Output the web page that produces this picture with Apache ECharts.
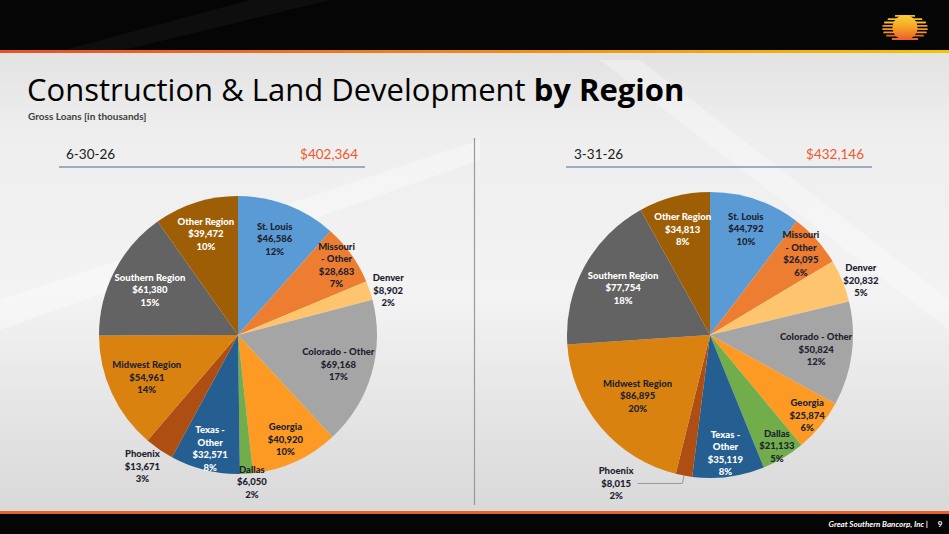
<!DOCTYPE html>
<html>
<head>
<meta charset="utf-8">
<script src="https://cdn.jsdelivr.net/npm/echarts@6/dist/echarts.min.js"></script>
<style>
  html, body { margin: 0; padding: 0; background: #e6e6e6; }
  #chart { width: 949px; height: 534px; }
</style>
</head>
<body>
<div id="chart"></div>
<script>
// ---------------- DATA ----------------
const categories = ['St. Louis', 'Missouri - Other', 'Denver', 'Colorado - Other', 'Georgia', 'Dallas',
  'Texas - Other', 'Phoenix', 'Midwest Region', 'Southern Region', 'Other Region'];
const values_6_30_26 = [46586, 28683, 8902, 69168, 40920, 6050, 32571, 13671, 54961, 61380, 39472];
const values_3_31_26 = [44792, 26095, 20832, 50824, 25874, 21133, 35119, 8015, 86895, 77754, 34813];
const periodLabels = ['6-30-26', '3-31-26'];
const titleMain = 'Construction & Land Development';
const titleBold = 'by Region';
const subtitle = 'Gross Loans [in thousands]';
const footerText = 'Great Southern Bancorp, Inc |';
const pageNumber = '9';

// ---------------- STYLE ----------------
const sliceColors = ['#5B9BD5', '#ED7D31', '#FFC46E', '#A5A5A5', '#FD9A23', '#72AD4B',
  '#255E91', '#AE4E12', '#D9820F', '#636363', '#9E5E06'];
const whiteLabel = ['Texas - Other', 'Southern Region', 'Other Region'];
const wrapNames = { 'Missouri - Other': 'Missouri\n- Other', 'Texas - Other': 'Texas -\nOther' };
const darkText = '#1E2230';
const orange = '#F0592A';
const FONT = 'Lato, "Open Sans", sans-serif';
const TITLE_FONT = '"Open Sans", Lato, sans-serif';

// label placement (fraction of radius where inside labels sit), and outside labels
const placeLeft = {
  center: [238, 335], r: 139,
  ratio: { 'St. Louis': 0.72, 'Missouri - Other': 0.85, 'Colorado - Other': 0.73, 'Georgia': 0.80,
    'Texas - Other': 0.82, 'Midwest Region': 0.70, 'Southern Region': 0.69, 'Other Region': 0.74 },
  outside: {
    'Denver': { len: 1, len2: 0, dist: 2, line: false },
    'Dallas': { len: 8, len2: 0, dist: -10, line: false },
    'Phoenix': { len: 20, len2: 0, dist: -12, line: false }
  }
};
const placeRight = {
  center: [710, 335], r: 143,
  ratio: { 'St. Louis': 0.76, 'Missouri - Other': 0.83, 'Colorado - Other': 0.73, 'Georgia': 0.86,
    'Texas - Other': 0.81, 'Midwest Region': 0.64, 'Southern Region': 0.67, 'Other Region': 0.74 },
  outside: {
    'Denver': { len: 1, len2: 0, dist: 0, line: false },
    'Dallas': { len: -14, len2: 0, dist: -17, line: false },
    'Phoenix': { len: 8, len2: 45, dist: 4, line: true }
  }
};

function fmtMoney(v) { return '$' + v.toLocaleString('en-US'); }
function labelFormatter(p) {
  const lines = (wrapNames[p.name] || p.name).split('\n')
    .concat([fmtMoney(p.value), Math.round(p.percent) + '%']);
  return lines.map(l => '{c|' + l + '}').join('\n');
}
const labelText = {
  formatter: labelFormatter, fontFamily: FONT, fontWeight: 900, fontSize: 9.5, lineHeight: 12.5,
  rich: { c: { align: 'center', fontFamily: FONT, fontWeight: 900, fontSize: 9.5, lineHeight: 12.5 } }
};

function makePies(values, place) {
  const common = {
    type: 'pie', center: place.center, silent: true, animation: false,
    startAngle: 90, clockwise: true, avoidLabelOverlap: false, emphasis: { disabled: true },
    labelLine: { show: false }, labelLayout: { hideOverlap: false }
  };
  const base = Object.assign({}, common, {
    radius: [0, place.r],
    label: { show: false },
    itemStyle: { borderWidth: 0 },
    data: categories.map((c, i) => ({ name: c, value: values[i], itemStyle: { color: sliceColors[i] } }))
  });
  const series = [base];
  // outside labels
  series.push(Object.assign({}, common, {
    radius: [0, place.r],
    itemStyle: { color: 'rgba(0,0,0,0)', borderWidth: 0 },
    label: Object.assign({ color: darkText }, labelText),
    data: categories.map((c, i) => {
      const d = { name: c, value: values[i] };
      const o = place.outside[c];
      if (o) {
        d.label = { show: true, position: 'outside', distanceToLabelLine: o.dist };
        d.labelLine = { show: o.line, length: o.len, length2: o.len2, lineStyle: { color: '#9a9a9a', width: 1 } };
      } else {
        d.label = { show: false };
      }
      return d;
    })
  }));
  // inside label rings (transparent), one per distinct ratio; labels sit at mid-ring
  const ratios = Array.from(new Set(Object.values(place.ratio)));
  const half = 0.3 * place.r;
  ratios.forEach(rt => {
    const mid = rt * place.r;
    series.push(Object.assign({}, common, {
      radius: [Math.round(mid - half), Math.round(mid + half)],
      itemStyle: { color: 'rgba(0,0,0,0)', borderWidth: 0 },
      label: Object.assign({ align: 'center' }, labelText),
      data: categories.map((c, i) => {
        const d = { name: c, value: values[i] };
        if (place.ratio[c] === rt) {
          d.label = { show: true, position: 'inside', color: whiteLabel.includes(c) ? '#ffffff' : darkText };
        } else {
          d.label = { show: false };
        }
        return d;
      })
    }));
  });
  return series;
}

const totalLeft = values_6_30_26.reduce((a, b) => a + b, 0);
const totalRight = values_3_31_26.reduce((a, b) => a + b, 0);

// logo stripes (decoration)
const logoStripes = [];
for (let k = 0; k < 8; k++) {
  const y = 15 + k * 3.3;
  const t = (y + 0.9 - 28) / 13.5;
  const hw = 23 * Math.sqrt(Math.max(0, 1 - t * t));
  logoStripes.push({ type: 'rect', shape: { x: 905 - hw, y: y, width: hw * 2, height: 1.8, r: 0.9 },
    style: { fill: k < 3 ? '#F6C21B' : (k < 6 ? '#F39A1E' : '#E8672A') }, silent: true });
}

const option = {
  backgroundColor: {
    type: 'linear', x: 0, y: 0, x2: 0, y2: 1,
    colorStops: [
      { offset: 0, color: '#dcdcdc' }, { offset: 0.25, color: '#eeeeee' },
      { offset: 0.55, color: '#f3f3f3' }, { offset: 1, color: '#d6d6d6' }
    ]
  },
  graphic: [
    // faint streaks
    { type: 'polygon', shape: { points: [[0, 300], [0, 330], [480, 160], [480, 140]] }, style: { fill: 'rgba(255,255,255,0.35)' }, silent: true },
    { type: 'polygon', shape: { points: [[600, 60], [640, 60], [949, 300], [949, 330]] }, style: { fill: 'rgba(255,255,255,0.3)' }, silent: true },
    // top band
    { type: 'rect', shape: { x: 0, y: 0, width: 949, height: 51 }, style: { fill: '#050505' }, silent: true },
    { type: 'polygon', shape: { points: [[250, 0], [330, 0], [120, 51], [60, 51]] }, style: { fill: 'rgba(255,255,255,0.04)' }, silent: true },
    { type: 'rect', shape: { x: 0, y: 50, width: 949, height: 3 },
      style: { fill: { type: 'linear', x: 0, y: 0, x2: 1, y2: 0, colorStops: [{ offset: 0, color: '#E8502A' }, { offset: 1, color: '#F2C500' }] } }, silent: true },
    // logo
    { type: 'group', children: logoStripes.concat([
      { type: 'circle', shape: { cx: 905, cy: 27.5, r: 12.5 },
        style: { fill: { type: 'linear', x: 0, y: 0, x2: 0, y2: 1, colorStops: [{ offset: 0, color: '#F8D13A' }, { offset: 0.5, color: '#F7A126' }, { offset: 1, color: '#EA5E2A' }] } }, silent: true }
    ]) },
    // title
    { type: 'text', left: 27, top: 73, silent: true,
      style: { text: '{a|' + titleMain + '}{b| ' + titleBold + '}', fontFamily: TITLE_FONT,
        rich: { a: { fontSize: 31, color: orange, fontFamily: TITLE_FONT }, b: { fontSize: 31, color: '#000', fontWeight: 'bold', fontFamily: TITLE_FONT } } } },
    { type: 'text', left: 28, top: 111, silent: true,
      style: { text: subtitle, fontFamily: FONT, fontSize: 10, fontWeight: 'bold', fill: '#404040' } },
    // section headers
    { type: 'text', x: 66, y: 154, silent: true,
      style: { text: periodLabels[0], fontFamily: FONT, fontSize: 13.5, fill: '#1a1a1a', verticalAlign: 'middle', align: 'left' } },
    { type: 'text', x: 358, y: 154, silent: true,
      style: { text: fmtMoney(totalLeft), fontFamily: FONT, fontSize: 13.5, fill: orange, verticalAlign: 'middle', align: 'right' } },
    { type: 'line', shape: { x1: 59, y1: 167, x2: 365, y2: 167 }, style: { stroke: '#8496B0', lineWidth: 1.5 }, silent: true },
    { type: 'text', x: 574, y: 154, silent: true,
      style: { text: periodLabels[1], fontFamily: FONT, fontSize: 13.5, fill: '#1a1a1a', verticalAlign: 'middle', align: 'left' } },
    { type: 'text', x: 864, y: 154, silent: true,
      style: { text: fmtMoney(totalRight), fontFamily: FONT, fontSize: 13.5, fill: orange, verticalAlign: 'middle', align: 'right' } },
    { type: 'line', shape: { x1: 566, y1: 167, x2: 872, y2: 167 }, style: { stroke: '#8496B0', lineWidth: 1.5 }, silent: true },
    // divider
    { type: 'line', shape: { x1: 474.5, y1: 138, x2: 474.5, y2: 505 }, style: { stroke: '#9a9a9a', lineWidth: 1.2 }, silent: true },
    // footer
    { type: 'rect', shape: { x: 0, y: 512, width: 949, height: 22 }, style: { fill: '#050505' }, silent: true },
    { type: 'rect', shape: { x: 0, y: 511, width: 949, height: 3 }, style: { fill: '#E8612C' }, silent: true },
    { type: 'text', x: 928, y: 524, silent: true,
      style: { text: footerText, fontFamily: FONT, fontSize: 8, fontStyle: 'italic', fontWeight: 'bold', fill: '#ffffff', align: 'right', verticalAlign: 'middle' } },
    { type: 'text', x: 940, y: 524, silent: true,
      style: { text: pageNumber, fontFamily: FONT, fontSize: 8, fontWeight: 'bold', fill: '#ffffff', align: 'center', verticalAlign: 'middle' } }
  ],
  series: makePies(values_6_30_26, placeLeft).concat(makePies(values_3_31_26, placeRight))
};

const chart = echarts.init(document.getElementById('chart'), null, { renderer: 'svg', width: 949, height: 534 });
chart.setOption(option);
</script>
</body>
</html>
